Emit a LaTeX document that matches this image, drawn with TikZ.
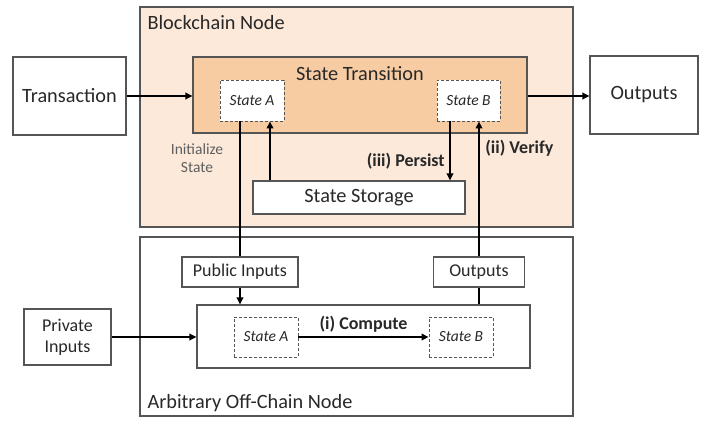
\documentclass[tikz,border=0pt]{standalone}
\usepackage{fontspec}
\setmainfont{Carlito}
\usepackage{tikz}
\usetikzlibrary{arrows.meta, positioning, calc}
\definecolor{cPeach}{RGB}{252,233,217}
\definecolor{cOrange}{RGB}{248,204,162}
\definecolor{cEdge}{RGB}{85,85,85}
\definecolor{cGrey}{RGB}{95,95,95}
\definecolor{cInk}{RGB}{40,40,40}
\tikzset{
	region/.style   ={rectangle, draw=cEdge, line width=1.1pt, inner sep=0pt},
	blk/.style      ={rectangle, draw=cEdge, line width=1.1pt, fill=white, align=center, inner sep=0pt},
	dashbox/.style  ={rectangle, draw=cEdge, dash pattern=on 3pt off 2pt, line width=0.9pt, fill=white, inner sep=0pt, font=\fontsize{15.5}{18}\selectfont\itshape},
	small/.style    ={font=\fontsize{18}{21}\selectfont},
	steplbl/.style  ={font=\fontsize{18}{21}\selectfont\bfseries},
	sig/.style      ={-{Triangle[length=7pt,width=6.5pt]}, line width=2pt},
	wire/.style     ={line width=2pt},
}
\begin{document}
\begin{tikzpicture}[x=1pt, y=-1pt, font=\fontsize{20.3}{24}\selectfont, text=cInk]
	\useasboundingbox (0,0) rectangle (706,424);
	% blockchain side
	\node[region, fill=cPeach, minimum width=433pt, minimum height=220pt] (chain) at (356.5,117) {};
	\node[anchor=west] (chainlbl) at (144,23) {Blockchain Node};
	\node[region, fill=cOrange, minimum width=334pt, minimum height=76pt] (trn) at (360,95) {};
	\node (trnlbl) at (360,74) {State Transition};
	\node[dashbox, minimum width=64pt, minimum height=41pt] (sa) at (252,100.5) {State A};
	\node[dashbox, minimum width=63pt, minimum height=41pt] (sb) at (468.5,100.5) {State B};
	\node[blk, minimum width=212pt, minimum height=33pt] (store) at (359,197.5) {State Storage};
	\node[blk, minimum width=113pt, minimum height=78pt] (trans) at (69.5,96) {Transaction};
	\node[blk, minimum width=108pt, minimum height=78pt] (out) at (644,95) {Outputs};
	\node[align=center, text=cGrey, font=\fontsize{15.5}{18}\selectfont] (init) at (197,158) {Initialize\\State};
	% off-chain side
	\node[region, minimum width=433pt, minimum height=179pt] (off) at (356.5,326.5) {};
	\node[anchor=west] (offlbl) at (144,403) {Arbitrary Off-Chain Node};
	\node[blk, small, minimum width=116pt, minimum height=30pt] (pub) at (240,272) {Public Inputs};
	\node[blk, small, minimum width=91pt, minimum height=30pt] (outs) at (479,272) {Outputs};
	\node[blk, minimum width=333pt, minimum height=63pt] (comp) at (363.5,336.5) {};
	\node[dashbox, minimum width=64pt, minimum height=40pt] (ca) at (266,337) {State A};
	\node[dashbox, minimum width=64pt, minimum height=40pt] (cb) at (461,337) {State B};
	\node[blk, small, minimum width=87pt, minimum height=56pt] (priv) at (67.5,337) {Private\\Inputs};
	% connectors
	\coordinate (load) at ($(sa.south)+(18,0)$);
	\coordinate (keep) at ($(sb.south)+(-18.5,0)$);
	\draw[sig] (trans.east |- 0,96) -- (trn.west |- 0,96);
	\draw[sig] (trn.east |- 0,96) -- (out.west |- 0,96);
	\draw[wire] (pub.north |- sa.south) -- (pub.north);
	\draw[sig] (load |- store.north) -- (load);
	\draw[sig] (keep) -- (keep |- store.north) node[pos=0.67, left=1pt, steplbl] {(iii) Persist};
	\draw[sig] (outs.north) -- (outs.north |- sb.south) node[pos=0.8, right=2pt, steplbl] {(ii) Verify};
	\draw[sig] (pub.south) -- (pub.south |- comp.north);
	\draw[wire] (outs.south |- comp.north) -- (outs.south);
	\draw[sig] (priv.east) -- (comp.west |- priv.east);
	\draw[sig] (ca.east) -- (cb.west) node[midway, above=0pt, steplbl] {(i) Compute};
\end{tikzpicture}
\end{document}
